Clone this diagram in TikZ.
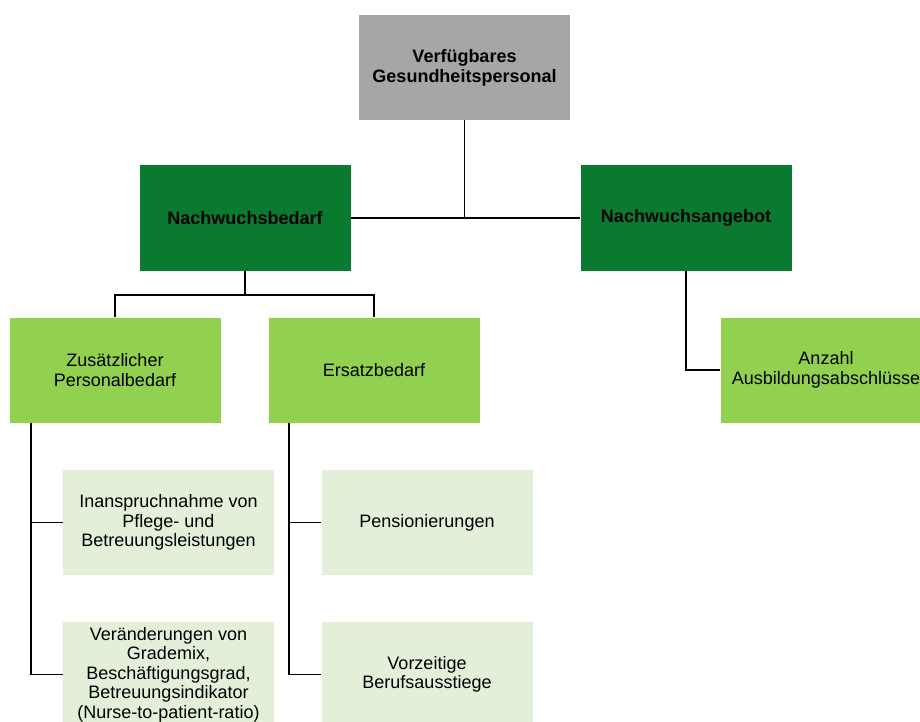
\documentclass[tikz,border=0pt]{standalone}
\usepackage{fontspec}
\setmainfont{Liberation Sans}
\definecolor{topgray}{HTML}{A6A6A6}
\definecolor{darkgreen}{HTML}{0A7A30}
\definecolor{midgreen}{HTML}{92D050}
\definecolor{palegreen}{HTML}{E2F0D9}
\begin{document}
\begin{tikzpicture}[x=1pt,y=-1pt,
  box/.style={minimum width=211pt,minimum height=105pt,inner sep=2pt,align=center,
    font=\fontsize{18}{19.5}\selectfont,text=black},
  topbox/.style={box,fill=topgray,font=\fontsize{18}{20}\selectfont\bfseries},
  lvlone/.style={box,fill=darkgreen,font=\fontsize{18}{20}\selectfont\bfseries},
  lvltwo/.style={box,fill=midgreen},
  lvlthree/.style={box,fill=palegreen},
  conn/.style={draw=black,line width=1.8pt}]
\useasboundingbox (0,0) rectangle (920,722);
\clip (0,0) rectangle (920,722);
\node[topbox] (top) at (464.5,67.5) {Verfügbares\\Gesundheitspersonal};
\node[lvlone] (bedarf) at (245,218) {Nachwuchsbedarf};
\node[lvlone] (angebot) at (686,218) {Nachwuchsangebot};
\node[lvltwo] (zus) at (115,370) {Zusätzlicher\\Personalbedarf};
\node[lvltwo] (ersatz) at (374,370) {Ersatzbedarf};
\node[lvltwo] (anzahl) at (826,370) {Anzahl\\Ausbildungsabschlüsse};
\node[lvlthree] (inan) at (168.5,522.5) {Inanspruchnahme von\\Pflege- und\\Betreuungsleistungen};
\node[lvlthree] (veraend) at (168.5,674.5) {Veränderungen von\\Grademix,\\Beschäftigungsgrad,\\Betreuungsindikator\\(Nurse-to-patient-ratio)};
\node[lvlthree] (pens) at (427,522.5) {Pensionierungen};
\node[lvlthree] (vorz) at (427,674.5) {Vorzeitige\\Berufsausstiege};
% connectors
\draw[conn] (bedarf.east) -- (angebot.west);
\draw[conn] (top.south) -- (top.south |- bedarf.east);
\coordinate (bsplit) at ([yshift=-24pt]bedarf.south);
\draw[conn] (bedarf.south) -- (bsplit);
\draw[conn] (zus.north) -- (zus.north |- bsplit) -- (ersatz.north |- bsplit) -- (ersatz.north);
\draw[conn] (angebot.south) |- (anzahl.west);
\coordinate (lspine) at ([xshift=22pt]zus.south west);
\draw[conn] (lspine) |- (veraend.west);
\draw[conn] (lspine |- inan.west) -- (inan.west);
\coordinate (rspine) at ([xshift=21pt]ersatz.south west);
\draw[conn] (rspine) |- (vorz.west);
\draw[conn] (rspine |- pens.west) -- (pens.west);
\end{tikzpicture}
\end{document}
